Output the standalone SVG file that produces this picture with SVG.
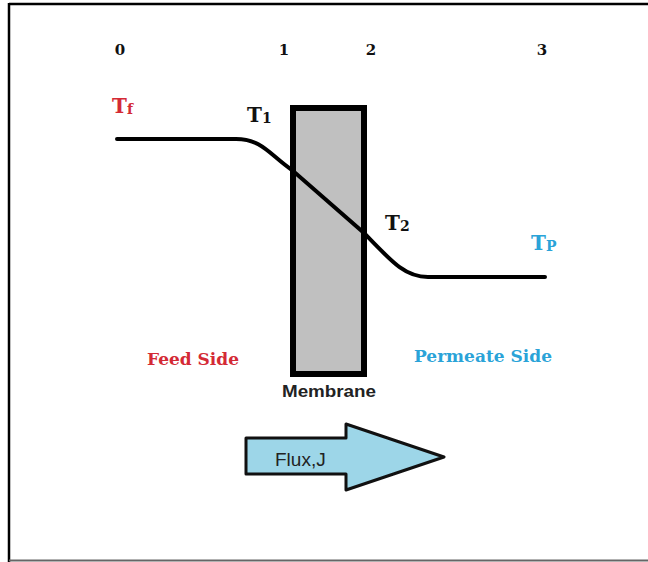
<svg xmlns="http://www.w3.org/2000/svg" width="648" height="562" viewBox="0 0 648 562">
<style>
.num{font-family:"DejaVu Serif","Liberation Serif",serif;font-weight:bold;font-size:15px;fill:#111}
.tl{font-family:"DejaVu Serif","Liberation Serif",serif;font-weight:bold;font-size:20px}
.sub{font-size:14px}
.side{font-family:"DejaVu Serif","Liberation Serif",serif;font-weight:bold;font-size:17px}
.sans{font-family:"Liberation Sans",Arial,sans-serif;fill:#222}
</style>
<rect width="648" height="562" fill="#fff"/>
<line x1="9" y1="4" x2="648" y2="4" stroke="#000" stroke-width="2.5"/>
<line x1="9" y1="3" x2="9" y2="562" stroke="#000" stroke-width="2.5"/>
<line x1="9" y1="560.5" x2="648" y2="560.5" stroke="#666" stroke-width="2"/>
<g id="labels-numbers">
<text class="num" x="120" y="55" text-anchor="middle">0</text>
<text class="num" x="284" y="55" text-anchor="middle">1</text>
<text class="num" x="371" y="55" text-anchor="middle">2</text>
<text class="num" x="542" y="55" text-anchor="middle">3</text>
</g>
<g id="membrane">
<rect x="293" y="108" width="71" height="266" fill="#c0c0c0" stroke="#000" stroke-width="6"/>
<text class="sans" x="282" y="397" font-size="16" font-weight="bold" textLength="94" lengthAdjust="spacingAndGlyphs">Membrane</text>
</g>
<g id="connectors">
<path d="M117,139 L236,139 C262,139 270,155 292,170 L364,233 C392,262 405,277 428,277 L545,277" fill="none" stroke="#000" stroke-width="4" stroke-linecap="round"/>
</g>
<g id="tf"><text class="tl" x="112" y="113" fill="#d42a35">T<tspan class="sub" dy="1">f</tspan></text></g>
<g id="t1"><text class="tl" x="247" y="122" fill="#111">T<tspan class="sub" dy="1">1</tspan></text></g>
<g id="t2"><text class="tl" x="385" y="230" fill="#111">T<tspan class="sub" dy="1">2</tspan></text></g>
<g id="tp"><text class="tl" x="531" y="250" fill="#2aa3d8">T<tspan class="sub" dy="1">P</tspan></text></g>
<g id="feed"><text class="side" x="147" y="365" fill="#d42a35">Feed Side</text></g>
<g id="permeate"><text class="side" x="414" y="362" fill="#2aa3d8">Permeate Side</text></g>
<g id="flux">
<path d="M246,438 L346,438 L346,424 L444,457 L346,490 L346,474 L246,474 Z" fill="#9dd6e8" stroke="#111" stroke-width="3" stroke-linejoin="round"/>
<text class="sans" x="275" y="466" font-size="19">Flux,J</text>
</g>
</svg>
